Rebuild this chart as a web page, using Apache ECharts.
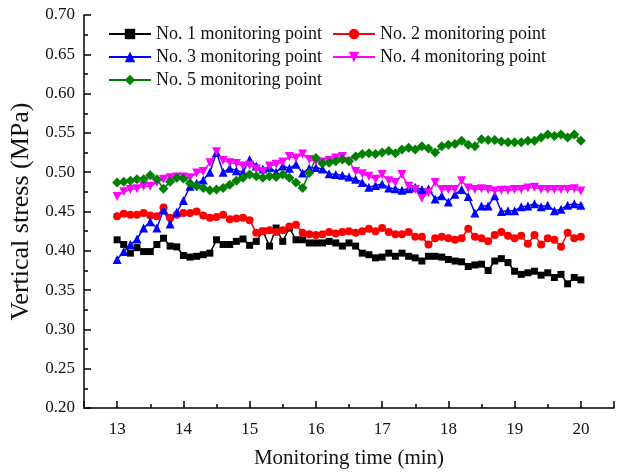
<!DOCTYPE html>
<html>
<head>
<meta charset="utf-8">
<script src="https://cdn.jsdelivr.net/npm/echarts@6/dist/echarts.min.js"></script>
<style>
  html, body { margin: 0; padding: 0; background: #fff; }
  #chart { width: 621px; height: 474px; }
</style>
</head>
<body>
<div id="chart"></div>
<script>
// monitoring time (min)
const times = [
  13.0, 13.1, 13.2, 13.3, 13.4, 13.5, 13.6, 13.7, 13.8, 13.9,
  14.0, 14.1, 14.2, 14.3, 14.4, 14.5, 14.6, 14.7, 14.8, 14.9,
  15.0, 15.1, 15.2, 15.3, 15.4, 15.5, 15.6, 15.7, 15.8, 15.9,
  16.0, 16.1, 16.2, 16.3, 16.4, 16.5, 16.6, 16.7, 16.8, 16.9,
  17.0, 17.1, 17.2, 17.3, 17.4, 17.5, 17.6, 17.7, 17.8, 17.9,
  18.0, 18.1, 18.2, 18.3, 18.4, 18.5, 18.6, 18.7, 18.8, 18.9,
  19.0, 19.1, 19.2, 19.3, 19.4, 19.5, 19.6, 19.7, 19.8, 19.9,
  20.0
];

const point1 = [
  0.414, 0.408, 0.397, 0.404, 0.399, 0.399, 0.408, 0.416, 0.406, 0.405,
  0.394, 0.392, 0.393, 0.395, 0.397, 0.414, 0.408, 0.408, 0.412, 0.415,
  0.407, 0.412, 0.425, 0.406, 0.429, 0.412, 0.429, 0.414, 0.414, 0.410,
  0.410, 0.410, 0.412, 0.410, 0.406, 0.410, 0.406, 0.397, 0.395, 0.391,
  0.392, 0.397, 0.393, 0.397, 0.393, 0.391, 0.387, 0.393, 0.393, 0.392,
  0.389, 0.387, 0.386, 0.380, 0.382, 0.383, 0.375, 0.387, 0.390, 0.385,
  0.374, 0.370, 0.372, 0.374, 0.369, 0.372, 0.366, 0.370, 0.358, 0.366,
  0.363
];
const point2 = [
  0.444, 0.447, 0.446, 0.446, 0.448, 0.445, 0.444, 0.455, 0.442, 0.446,
  0.448, 0.448, 0.450, 0.445, 0.442, 0.443, 0.446, 0.440, 0.441, 0.442,
  0.439, 0.423, 0.425, 0.426, 0.424, 0.426, 0.431, 0.433, 0.423, 0.421,
  0.420, 0.421, 0.424, 0.422, 0.424, 0.425, 0.423, 0.425, 0.428, 0.425,
  0.429, 0.424, 0.421, 0.421, 0.424, 0.418, 0.418, 0.408, 0.416, 0.418,
  0.416, 0.414, 0.416, 0.428, 0.418, 0.416, 0.412, 0.420, 0.424, 0.419,
  0.416, 0.419, 0.409, 0.420, 0.408, 0.416, 0.414, 0.405, 0.423, 0.416,
  0.418
];
const point3 = [
  0.389, 0.399, 0.408, 0.415, 0.429, 0.437, 0.429, 0.452, 0.434, 0.449,
  0.464, 0.482, 0.486, 0.490, 0.500, 0.525, 0.500, 0.505, 0.502, 0.500,
  0.516, 0.508, 0.504, 0.506, 0.500, 0.508, 0.505, 0.510, 0.499, 0.505,
  0.506, 0.504, 0.498, 0.497, 0.496, 0.494, 0.491, 0.487, 0.481, 0.483,
  0.485, 0.480, 0.479, 0.477, 0.479, 0.481, 0.478, 0.479, 0.466, 0.470,
  0.462, 0.472, 0.478, 0.469, 0.448, 0.457, 0.457, 0.470, 0.450, 0.451,
  0.451, 0.456, 0.457, 0.460, 0.456, 0.458, 0.451, 0.453, 0.458, 0.460,
  0.458
];
const point4 = [
  0.469, 0.475, 0.478, 0.479, 0.482, 0.482, 0.487, 0.491, 0.493, 0.494,
  0.494, 0.493, 0.499, 0.501, 0.512, 0.526, 0.515, 0.512, 0.511, 0.508,
  0.509, 0.504, 0.501, 0.508, 0.510, 0.513, 0.520, 0.518, 0.523, 0.516,
  0.514, 0.513, 0.515, 0.518, 0.520, 0.514, 0.501, 0.498, 0.495, 0.491,
  0.497, 0.489, 0.487, 0.497, 0.482, 0.478, 0.467, 0.474, 0.487, 0.478,
  0.478, 0.478, 0.489, 0.480, 0.478, 0.479, 0.478, 0.476, 0.477, 0.477,
  0.478, 0.478, 0.480, 0.481, 0.478, 0.478, 0.478, 0.478, 0.478, 0.479,
  0.476
];
const point5 = [
  0.487, 0.488, 0.489, 0.491, 0.491, 0.496, 0.491, 0.479, 0.488, 0.493,
  0.492, 0.486, 0.482, 0.480, 0.477, 0.478, 0.480, 0.484, 0.489, 0.493,
  0.497, 0.495, 0.493, 0.495, 0.494, 0.497, 0.493, 0.487, 0.480, 0.499,
  0.518, 0.511, 0.512, 0.514, 0.516, 0.514, 0.520, 0.523, 0.524, 0.523,
  0.525, 0.527, 0.524, 0.529, 0.531, 0.529, 0.533, 0.530, 0.525, 0.533,
  0.535, 0.536, 0.540, 0.535, 0.533, 0.542, 0.541, 0.541, 0.539, 0.538,
  0.538, 0.538, 0.540, 0.540, 0.544, 0.548, 0.546, 0.548, 0.544, 0.548,
  0.540
];

const seriesNames = [
  'No. 1 monitoring point', 'No. 2 monitoring point', 'No. 3 monitoring point',
  'No. 4 monitoring point', 'No. 5 monitoring point'
];

const font = "'Liberation Serif', 'Times New Roman', serif";

function pairs(values) {
  return values.map((v, i) => [times[i], v]);
}

function makeSeries(name, values, color, symbol, size, rotate) {
  return {
    name: name,
    type: 'line',
    data: pairs(values),
    symbol: symbol,
    symbolSize: size,
    symbolRotate: rotate || 0,
    showAllSymbol: true,
    lineStyle: { color: color, width: 1.5 },
    itemStyle: { color: color }
  };
}

const chart = echarts.init(document.getElementById('chart'), null, { renderer: 'canvas' });

const legendText = { fontFamily: font, fontSize: 18, color: '#111' };

chart.setOption({
  animation: false,
  backgroundColor: '#fff',
  grid: { left: 84, right: 7, top: 15, bottom: 65 },
  legend: [
    {
      data: [seriesNames[0], seriesNames[2], seriesNames[4]],
      orient: 'vertical', left: 103, top: 20,
      itemWidth: 42, itemHeight: 13, itemGap: 5,
      textStyle: legendText
    },
    {
      data: [seriesNames[1], seriesNames[3]],
      orient: 'vertical', left: 327, top: 20,
      itemWidth: 42, itemHeight: 13, itemGap: 5,
      textStyle: legendText
    }
  ],
  xAxis: {
    type: 'value',
    min: 12.5,
    max: 20.5,
    splitNumber: 8,
    name: 'Monitoring time (min)',
    nameLocation: 'middle',
    nameGap: 40,
    nameTextStyle: { fontFamily: font, fontSize: 21, color: '#111' },
    axisLine: { lineStyle: { color: '#000', width: 1.5 } },
    axisTick: { inside: true, length: 7, lineStyle: { color: '#000', width: 1.5 } },
    minorTick: { show: true, splitNumber: 2, length: 4, lineStyle: { color: '#000', width: 1.5 } },
    axisLabel: {
      fontFamily: font, fontSize: 17, color: '#111', margin: 13,
      showMinLabel: false, showMaxLabel: false,
      formatter: v => (Math.abs(v - Math.round(v)) < 1e-6 ? String(Math.round(v)) : '')
    },
    splitLine: { show: false }
  },
  yAxis: {
    type: 'value',
    min: 0.2,
    max: 0.7,
    interval: 0.05,
    name: 'Vertical stress (MPa)',
    nameLocation: 'middle',
    nameGap: 48,
    nameTextStyle: { fontFamily: font, fontSize: 26, color: '#111' },
    axisLine: { show: true, lineStyle: { color: '#000', width: 1.5 } },
    axisTick: { show: true, inside: true, length: 7, lineStyle: { color: '#000', width: 1.5 } },
    minorTick: { show: true, splitNumber: 2, length: 4, lineStyle: { color: '#000', width: 1.5 } },
    axisLabel: {
      fontFamily: font, fontSize: 17, color: '#111', margin: 9,
      formatter: v => v.toFixed(2)
    },
    splitLine: { show: false }
  },
  series: [
    makeSeries(seriesNames[0], point1, '#000000', 'rect', 7),
    makeSeries(seriesNames[1], point2, '#ff0000', 'circle', 8),
    makeSeries(seriesNames[2], point3, '#0000ff', 'triangle', 9),
    makeSeries(seriesNames[3], point4, '#ff00ff', 'triangle', 9, 180),
    makeSeries(seriesNames[4], point5, '#008000', 'diamond', [10, 10])
  ]
});
</script>
</body>
</html>
